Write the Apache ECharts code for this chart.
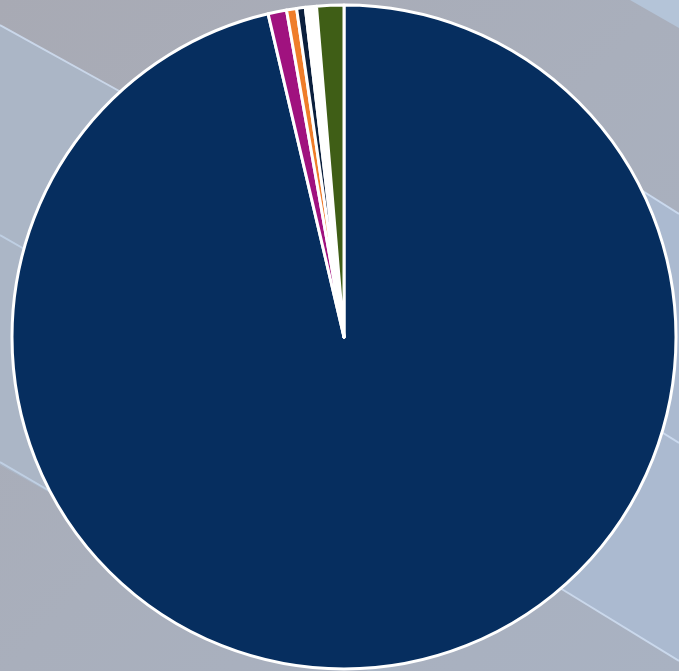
<!DOCTYPE html>
<html><head><meta charset="utf-8">
<script src="https://cdn.jsdelivr.net/npm/echarts@6/dist/echarts.min.js"></script>
<style>html,body{margin:0;padding:0;}#c{width:679px;height:671px;}</style>
</head><body><div id="c"></div>
<script>
const categories = ['A', 'B', 'C', 'D', 'E', 'F'];
const values = [96.3, 0.9, 0.49, 0.42, 0.54, 1.32];
const colors = ['#062e5f', '#a0127f', '#ef7d2a', '#0b1f3d', '#ffffff', '#3f5e16'];

const chart = echarts.init(document.getElementById('c'));
const hl = (pts, w, c) => ({type: 'polyline', silent: true, z: -1, shape: {points: pts}, style: {stroke: c, lineWidth: w, fill: null}});
chart.setOption({
  backgroundColor: {
    type: 'linear', x: 0, y: 0, x2: 1, y2: 1,
    colorStops: [{offset: 0, color: '#a8aab4'}, {offset: 0.5, color: '#a9afbc'}, {offset: 1, color: '#a9b2c2'}]
  },
  graphic: [
    {type: 'polygon', silent: true, z: -2, shape: {points: [[0,25],[400,249],[400,689],[0,465]]}, style: {fill: '#abb6c6'}},
    {type: 'polygon', silent: true, z: -2, shape: {points: [[400,40],[679,213],[679,661],[400,488]]}, style: {fill: '#abbad0'}},
    {type: 'polygon', silent: true, z: -2, shape: {points: [[630,0],[679,0],[679,28]]}, style: {fill: '#b4c4d8'}},
    hl([[0,25],[130,97]], 2, 'rgba(210,225,245,0.8)'),
    hl([[0,235],[40,258]], 2, 'rgba(200,218,240,0.7)'),
    hl([[0,462],[60,497]], 2, 'rgba(200,218,240,0.7)'),
    hl([[630,183],[679,214]], 2, 'rgba(210,225,245,0.8)'),
    hl([[655,428],[679,443]], 2, 'rgba(210,225,245,0.8)'),
    hl([[560,588],[679,661]], 2, 'rgba(210,225,245,0.8)')
  ],
  series: [{
    type: 'pie',
    center: [344, 337],
    radius: ['0%', 332],
    startAngle: 90,
    clockwise: true,
    label: {show: false},
    labelLine: {show: false},
    itemStyle: {borderColor: '#ffffff', borderWidth: 3},
    emphasis: {disabled: true},
    animation: false,
    data: categories.map((n, i) => ({name: n, value: values[i], itemStyle: {color: colors[i]}}))
  }]
});
</script></body></html>
